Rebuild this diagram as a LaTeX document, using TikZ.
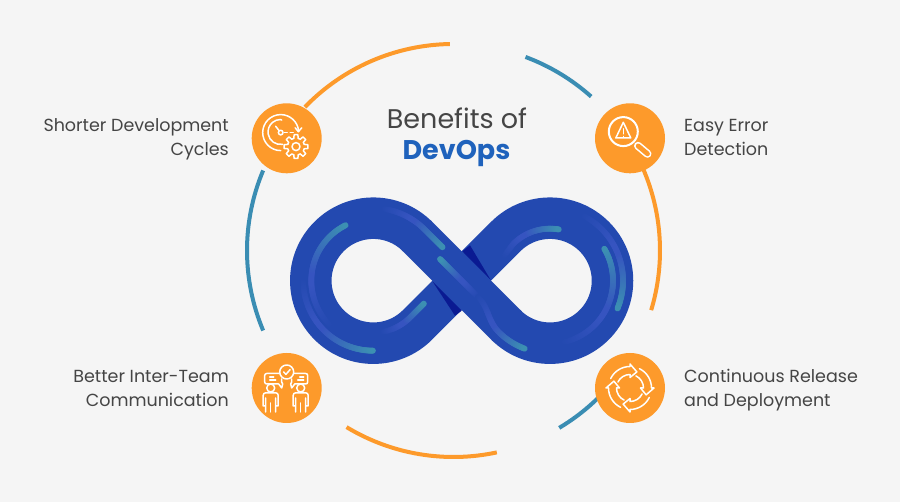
\documentclass[tikz,border=0pt]{standalone}
\usepackage{fontspec}
\setmainfont{Poppins}
\usetikzlibrary{calc}
\usetikzlibrary{decorations.markings}

\definecolor{pagegray}{HTML}{F5F5F5}
\definecolor{ringorange}{HTML}{FD9A2B}
\definecolor{ringteal}{HTML}{3A8DB3}
\definecolor{loopblue}{HTML}{2349B0}
\definecolor{loopdark}{HTML}{0A1A92}
\definecolor{glowmid}{HTML}{3654C0}
\definecolor{glowteal}{HTML}{3C90B2}
\definecolor{titlegray}{HTML}{454545}
\definecolor{titleblue}{HTML}{1F62BC}

\tikzset{
  badge/.style={circle, fill=ringorange, inner sep=0pt, minimum size=70pt},
  label/.style={font=\fontsize{17.5}{24}\selectfont, text=titlegray, inner sep=0pt},
  icon/.style={draw=white, line width=1.5pt, line join=round, line cap=round},
  glow/.style={postaction={decorate, decoration={markings,
    mark=between positions 0 and 1 step 0.8pt with {
      \pgfmathsetmacro\glowpos{100*\pgfkeysvalueof{/pgf/decoration/mark info/distance from start}/\pgfdecoratedpathlength}
      \pgfmathsetmacro\glowa{min(100,2.5*\glowpos)}
      \pgfmathsetmacro\glowb{min(100,max(0,2*(\glowpos-50)))}
      \ifdim\glowpos pt<40pt \def\glowcol{glowmid!\glowa!loopblue}\else \def\glowcol{glowteal!\glowb!glowmid}\fi
      \fill[fill=\glowcol] (0,0) circle[radius=3pt];
    }}}},
}

\begin{document}
\begin{tikzpicture}[x=1pt, y=1pt]
    \fill[pagegray] (0,0) rectangle (900,502);
    \useasboundingbox (0,0) rectangle (900,502);

    \coordinate (ring) at (453.5,251.5);
    \coordinate (lc) at (373.3,221.3);
    \coordinate (rc) at (550,221.3);

    % ring pieces
    \foreach \from/\to/\col in {136/91/ringorange, 69.6/48.2/ringteal, 23.4/-16.8/ringorange, -59.2/-35/ringteal,
      -77.9/-121.2/ringorange, 202.8/157.2/ringteal}
      \draw[\col, line width=4pt] ($(ring)+(\from:206.5)$) arc[start angle=\from, end angle=\to, radius=206.5pt];

    % infinity loop
    \draw[loopblue, line width=41.5pt] ($(lc)+(45:62.5)$) arc[start angle=45, end angle=315, radius=62.5pt]
      -- ($(rc)+(135:62.5)$) arc[start angle=135, end angle=-135, radius=62.5pt];
    \fill[loopdark] (462.3,250.7) -- (470,256.7) -- (490.7,222) -- cycle;
    \fill[loopdark] (432.7,220.3) -- (461.7,191.3) -- (455,186.3) -- cycle;
    \draw[loopblue, line width=41.5pt] ($(lc)+(45:62.5)+(-1.5,1.5)$) -- ($(rc)+(225:62.5)+(1.5,-1.5)$);

    % highlights on the loop
    \path[glow] ($(lc)+(226:62)$) arc[start angle=226, end angle=116.4, radius=62pt];
    \path[glow] ($(lc)+(180:70)$) arc[start angle=180, end angle=270, radius=70pt];
    \path[glow] ($(lc)+(82:72.5)$) arc[start angle=82, end angle=45, radius=72.5pt] -- (442.7,254.6);
    \path[glow] (478,205) -- (440,243);
    \path[glow] (478,205) to[out=-45, in=135] (498.7,170) arc[start angle=225, end angle=250, radius=72.5pt];
    \path[glow] ($(lc)+(280:52)$) arc[start angle=280, end angle=315, radius=52pt] -- (424.2,198.7);
    \path[glow] (504,246) -- ($(rc)+(135:52)$) arc[start angle=135, end angle=80, radius=52pt];
    \path[glow] ($(rc)+(63:73)$) arc[start angle=63, end angle=-23, radius=73pt];
    \path[glow] ($(rc)+(-78:63)$) arc[start angle=-78, end angle=31, radius=63pt];

    % badges
    \node[badge] (shorter) at (286.7,363.7) {};
    \node[badge] (easy) at (630,363.7) {};
    \node[badge] (better) at (286.7,114) {};
    \node[badge] (release) at (630,114) {};

    % clock and gear
    \begin{scope}[shift={(shorter)}]
      \draw[icon] (-6,-12.3) arc[start angle=-90, end angle=-270, radius=18pt] arc[start angle=90, end angle=5, radius=18pt];
      \draw[icon] (-4,-6) arc[start angle=-80, end angle=-270, radius=12.5pt] -- (-5,18.2);
      \draw[icon] (8.5,10.5) -- (11.7,6.5) -- (15,10.5);
      \draw[icon] (-6,5.7) circle[radius=2.3pt];
      \draw[icon] (-7.5,7.5) -- (-11,12);
      \draw[icon, dash pattern=on 3pt off 3pt] (-2.5,5.7) -- (8,5.7);
      \draw[icon] (9.3,-8.3) circle[radius=4pt];
      \foreach \a in {0,45,...,315}
        \draw[icon] ($(9.3,-8.3)+(\a-15:8.5)$) -- ($(9.3,-8.3)+(\a-9:12)$) -- ($(9.3,-8.3)+(\a+9:12)$) -- ($(9.3,-8.3)+(\a+15:8.5)$)
          arc[start angle=\a+15, end angle=\a+30, radius=8.5pt];
    \end{scope}

    % magnifier and warning sign
    \begin{scope}[shift={(easy)}]
      \draw[icon, line width=2pt] (-6.7,6.7) circle[radius=14.5pt];
      \draw[white, line width=8pt, line cap=round] (8,-7.5) -- (17.5,-15.5);
      \draw[ringorange, line width=4.8pt, line cap=round] (8.2,-7.7) -- (17.5,-15.5);
      \draw[icon] (-6.7,16) -- (-14.2,0.3) -- (0.8,0.3) -- cycle;
      \draw[icon] (-6.7,9.5) -- (-6.7,4.5);
      \draw[icon] (-6.7,1.8) -- (-6.7,1.9);
    \end{scope}

    % two people and their talk
    \begin{scope}[shift={(better)}]
      \draw[icon] (0,16) circle[radius=7pt];
      \draw[icon] (-3,16) -- (-0.8,13.6) -- (3.4,18.4);
      \draw[icon] (-7.5,14.5) -- (-20,14.5) arc[start angle=90, end angle=180, radius=2pt] -- (-22,6) arc[start angle=180, end angle=270, radius=2pt]
        -- (-8,4) -- (-5,0) -- (-4,4) -- (-5,6) -- (-5,9);
      \draw[icon] (7.5,14.5) -- (19,14.5) arc[start angle=90, end angle=0, radius=2pt] -- (21,6) arc[start angle=0, end angle=-90, radius=2pt]
        -- (8,4) -- (5,0) -- (4,4) -- (5,6) -- (5,9);
      \draw[icon] (-17,11) -- (-13,11) (-17,8) -- (-11,8);
      \draw[icon] (13,11) -- (17,11) (11,8) -- (17,8);
      \foreach \x in {-16,14} {
        \draw[icon] (\x,0) circle[radius=4pt];
        \draw[icon] (\x-5,-4.8) -- (\x+5,-4.8) arc[start angle=90, end angle=0, radius=2.5pt] -- (\x+7.5,-18) -- (\x+5,-18) -- (\x+5,-10)
          (\x+5,-24) -- (\x+5,-18) (\x-5,-24) -- (\x-5,-10) (\x-5,-18) -- (\x-7.5,-18) -- (\x-7.5,-7.3) arc[start angle=180, end angle=90, radius=2.5pt];
        \draw[icon] (\x,-24) -- (\x,-15);
      }
    \end{scope}

    % circular arrows
    \begin{scope}[shift={(release)}]
      \foreach \a in {90,0,-90,180}
        \draw[icon] (\a+64:21.5) arc[start angle=\a+64, end angle=\a, radius=21.5pt]
          -- (\a:24) -- (\a-23:17.5) -- (\a:10.5) -- (\a:13.5)
          arc[start angle=\a, end angle=\a+64, radius=13.5pt];
    \end{scope}

    % texts
    \node[font=\fontsize{27}{35}\selectfont, text=titlegray, inner sep=0pt] (title) at (457,384) {Benefits of};
    \node[font=\fontsize{27}{35}\selectfont\bfseries, text=titleblue, inner sep=0pt] (devops) at (456.5,349) {DevOps};
    \node[label, align=right, anchor=east] (shortertext) at (229,363) {Shorter Development\\Cycles};
    \node[label, align=left, anchor=west] (easytext) at (684,365) {Easy Error\\Detection};
    \node[label, align=right, anchor=east] (bettertext) at (229,113.5) {Better Inter-Team\\Communication};
    \node[label, align=left, anchor=west] (releasetext) at (684,111.5) {Continuous Release\\and Deployment};
\end{tikzpicture}
\end{document}
